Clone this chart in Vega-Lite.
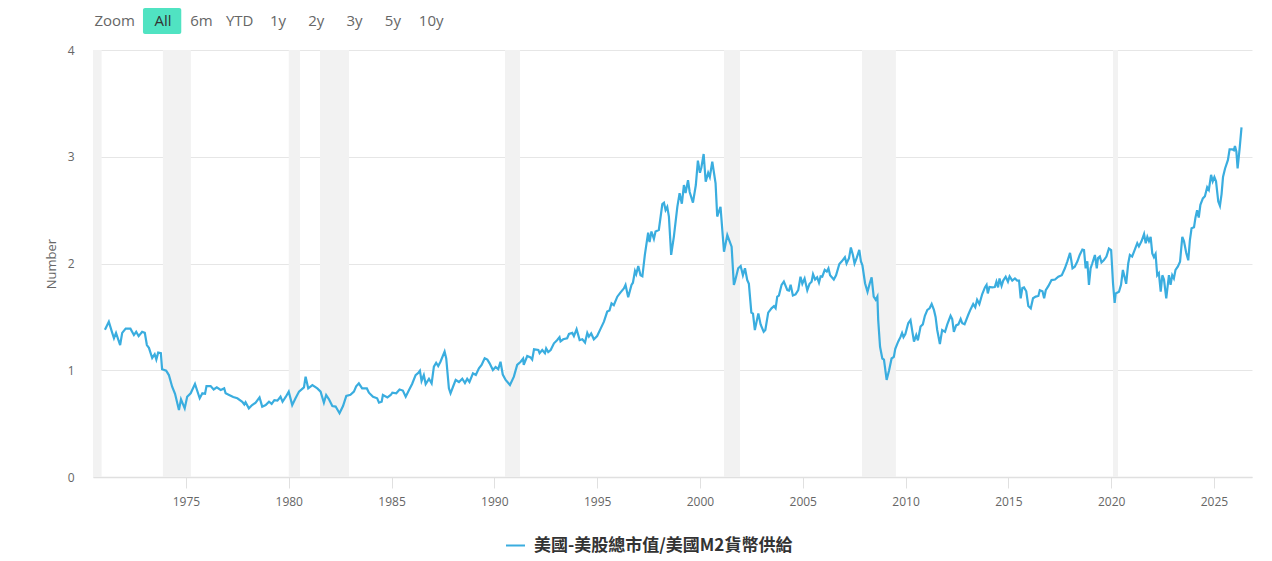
{
  "$schema": "https://vega.github.io/schema/vega-lite/v6.json",
  "background": "white",
  "padding": {"left": 45, "top": 8, "right": 19, "bottom": 5},
  "bounds": "flush",
  "spacing": 16,
  "config": {
    "view": {"stroke": null},
    "font": "Open Sans",
    "axis": {"labelFont": "Open Sans", "labelColor": "#666666", "labelFontSize": 12, "titleFont": "Open Sans"},
    "legend": {"layout": {"bottom": {"anchor": "middle"}}}
  },
  "datasets": {
    "buttons": [
      {"b": "Zoom"}, {"b": "All"}, {"b": "6m"}, {"b": "YTD"}, {"b": "1y"},
      {"b": "2y"}, {"b": "3y"}, {"b": "5y"}, {"b": "10y"}
    ],
    "recessions": [
      {"start": 1969.9, "end": 1970.9},
      {"start": 1973.88, "end": 1975.24},
      {"start": 1980.0, "end": 1980.55},
      {"start": 1981.52, "end": 1982.93},
      {"start": 1990.52, "end": 1991.25},
      {"start": 2001.17, "end": 2001.95},
      {"start": 2007.88, "end": 2009.53},
      {"start": 2020.09, "end": 2020.33}
    ],
    "ratio": [
      {"year": 1971.06, "v": 1.38}, {"year": 1971.25, "v": 1.455}, {"year": 1971.4, "v": 1.36}, {"year": 1971.5, "v": 1.3},
      {"year": 1971.6, "v": 1.35}, {"year": 1971.8, "v": 1.236}, {"year": 1971.9, "v": 1.35}, {"year": 1972.07, "v": 1.39},
      {"year": 1972.3, "v": 1.39}, {"year": 1972.47, "v": 1.33}, {"year": 1972.58, "v": 1.36}, {"year": 1972.7, "v": 1.32},
      {"year": 1972.87, "v": 1.36}, {"year": 1973.0, "v": 1.35}, {"year": 1973.1, "v": 1.236}, {"year": 1973.2, "v": 1.21},
      {"year": 1973.36, "v": 1.115}, {"year": 1973.48, "v": 1.15}, {"year": 1973.56, "v": 1.1}, {"year": 1973.65, "v": 1.165},
      {"year": 1973.78, "v": 1.16}, {"year": 1973.84, "v": 1.01}, {"year": 1974.04, "v": 0.996}, {"year": 1974.17, "v": 0.955},
      {"year": 1974.33, "v": 0.846}, {"year": 1974.47, "v": 0.78}, {"year": 1974.66, "v": 0.628}, {"year": 1974.76, "v": 0.728},
      {"year": 1974.94, "v": 0.643}, {"year": 1975.06, "v": 0.752}, {"year": 1975.23, "v": 0.784}, {"year": 1975.44, "v": 0.871},
      {"year": 1975.67, "v": 0.737}, {"year": 1975.8, "v": 0.784}, {"year": 1975.93, "v": 0.78}, {"year": 1976.0, "v": 0.852},
      {"year": 1976.2, "v": 0.852}, {"year": 1976.35, "v": 0.82}, {"year": 1976.5, "v": 0.84}, {"year": 1976.69, "v": 0.815},
      {"year": 1976.86, "v": 0.83}, {"year": 1976.93, "v": 0.784}, {"year": 1977.1, "v": 0.768}, {"year": 1977.3, "v": 0.75},
      {"year": 1977.5, "v": 0.737}, {"year": 1977.74, "v": 0.705}, {"year": 1977.84, "v": 0.68}, {"year": 1977.9, "v": 0.7},
      {"year": 1978.06, "v": 0.643}, {"year": 1978.22, "v": 0.674}, {"year": 1978.39, "v": 0.696}, {"year": 1978.58, "v": 0.746},
      {"year": 1978.71, "v": 0.659}, {"year": 1978.88, "v": 0.674}, {"year": 1979.04, "v": 0.705}, {"year": 1979.17, "v": 0.685},
      {"year": 1979.3, "v": 0.72}, {"year": 1979.45, "v": 0.715}, {"year": 1979.6, "v": 0.752}, {"year": 1979.7, "v": 0.705},
      {"year": 1979.86, "v": 0.752}, {"year": 1980.0, "v": 0.8}, {"year": 1980.17, "v": 0.674}, {"year": 1980.33, "v": 0.737},
      {"year": 1980.5, "v": 0.8}, {"year": 1980.74, "v": 0.84}, {"year": 1980.82, "v": 0.94}, {"year": 1980.95, "v": 0.83},
      {"year": 1981.15, "v": 0.86}, {"year": 1981.39, "v": 0.83}, {"year": 1981.55, "v": 0.8}, {"year": 1981.71, "v": 0.696},
      {"year": 1981.82, "v": 0.768}, {"year": 1981.95, "v": 0.73}, {"year": 1982.12, "v": 0.665}, {"year": 1982.28, "v": 0.66},
      {"year": 1982.47, "v": 0.597}, {"year": 1982.64, "v": 0.665}, {"year": 1982.8, "v": 0.759}, {"year": 1983.0, "v": 0.77},
      {"year": 1983.17, "v": 0.8}, {"year": 1983.28, "v": 0.85}, {"year": 1983.41, "v": 0.877}, {"year": 1983.57, "v": 0.83},
      {"year": 1983.8, "v": 0.83}, {"year": 1983.9, "v": 0.79}, {"year": 1984.1, "v": 0.752}, {"year": 1984.3, "v": 0.737},
      {"year": 1984.39, "v": 0.696}, {"year": 1984.52, "v": 0.705}, {"year": 1984.58, "v": 0.768}, {"year": 1984.8, "v": 0.746},
      {"year": 1984.96, "v": 0.768}, {"year": 1985.04, "v": 0.79}, {"year": 1985.23, "v": 0.784}, {"year": 1985.39, "v": 0.82},
      {"year": 1985.55, "v": 0.81}, {"year": 1985.69, "v": 0.752}, {"year": 1985.85, "v": 0.815}, {"year": 1986.0, "v": 0.871},
      {"year": 1986.17, "v": 0.955}, {"year": 1986.3, "v": 0.975}, {"year": 1986.38, "v": 0.996}, {"year": 1986.46, "v": 0.9},
      {"year": 1986.57, "v": 0.955}, {"year": 1986.66, "v": 0.871}, {"year": 1986.82, "v": 0.92}, {"year": 1986.95, "v": 0.877},
      {"year": 1987.06, "v": 1.033}, {"year": 1987.17, "v": 1.07}, {"year": 1987.27, "v": 1.04}, {"year": 1987.38, "v": 1.08},
      {"year": 1987.58, "v": 1.174}, {"year": 1987.66, "v": 1.11}, {"year": 1987.79, "v": 0.83}, {"year": 1987.87, "v": 0.784},
      {"year": 1988.0, "v": 0.85}, {"year": 1988.12, "v": 0.909}, {"year": 1988.28, "v": 0.89}, {"year": 1988.44, "v": 0.92},
      {"year": 1988.57, "v": 0.88}, {"year": 1988.68, "v": 0.92}, {"year": 1988.79, "v": 0.89}, {"year": 1988.96, "v": 0.971},
      {"year": 1989.1, "v": 0.955}, {"year": 1989.25, "v": 1.018}, {"year": 1989.38, "v": 1.05}, {"year": 1989.53, "v": 1.112},
      {"year": 1989.66, "v": 1.1}, {"year": 1989.77, "v": 1.065}, {"year": 1989.93, "v": 1.002}, {"year": 1990.06, "v": 1.03},
      {"year": 1990.19, "v": 1.01}, {"year": 1990.3, "v": 1.08}, {"year": 1990.41, "v": 0.96}, {"year": 1990.55, "v": 0.909},
      {"year": 1990.76, "v": 0.862}, {"year": 1990.95, "v": 0.94}, {"year": 1991.11, "v": 1.05}, {"year": 1991.28, "v": 1.08},
      {"year": 1991.4, "v": 1.11}, {"year": 1991.43, "v": 1.05}, {"year": 1991.6, "v": 1.133}, {"year": 1991.76, "v": 1.12},
      {"year": 1991.84, "v": 1.1}, {"year": 1991.93, "v": 1.196}, {"year": 1992.14, "v": 1.19}, {"year": 1992.2, "v": 1.16},
      {"year": 1992.33, "v": 1.19}, {"year": 1992.46, "v": 1.16}, {"year": 1992.52, "v": 1.205}, {"year": 1992.62, "v": 1.17},
      {"year": 1992.74, "v": 1.19}, {"year": 1992.9, "v": 1.252}, {"year": 1993.06, "v": 1.283}, {"year": 1993.17, "v": 1.31},
      {"year": 1993.22, "v": 1.27}, {"year": 1993.35, "v": 1.29}, {"year": 1993.54, "v": 1.3}, {"year": 1993.63, "v": 1.34},
      {"year": 1993.79, "v": 1.35}, {"year": 1993.87, "v": 1.32}, {"year": 1994.0, "v": 1.384}, {"year": 1994.15, "v": 1.283},
      {"year": 1994.28, "v": 1.29}, {"year": 1994.41, "v": 1.26}, {"year": 1994.52, "v": 1.35}, {"year": 1994.6, "v": 1.315},
      {"year": 1994.71, "v": 1.345}, {"year": 1994.84, "v": 1.29}, {"year": 1995.0, "v": 1.32}, {"year": 1995.17, "v": 1.39},
      {"year": 1995.33, "v": 1.455}, {"year": 1995.49, "v": 1.549}, {"year": 1995.6, "v": 1.56}, {"year": 1995.7, "v": 1.627},
      {"year": 1995.81, "v": 1.61}, {"year": 1995.98, "v": 1.689}, {"year": 1996.14, "v": 1.73}, {"year": 1996.3, "v": 1.767},
      {"year": 1996.38, "v": 1.8}, {"year": 1996.51, "v": 1.683}, {"year": 1996.67, "v": 1.8}, {"year": 1996.74, "v": 1.82},
      {"year": 1996.84, "v": 1.93}, {"year": 1996.9, "v": 1.9}, {"year": 1997.0, "v": 1.976}, {"year": 1997.11, "v": 1.89},
      {"year": 1997.2, "v": 1.88}, {"year": 1997.32, "v": 2.08}, {"year": 1997.48, "v": 2.289}, {"year": 1997.55, "v": 2.2},
      {"year": 1997.64, "v": 2.3}, {"year": 1997.76, "v": 2.23}, {"year": 1997.84, "v": 2.3}, {"year": 1998.0, "v": 2.314},
      {"year": 1998.17, "v": 2.557}, {"year": 1998.25, "v": 2.57}, {"year": 1998.33, "v": 2.5}, {"year": 1998.41, "v": 2.53},
      {"year": 1998.49, "v": 2.44}, {"year": 1998.6, "v": 2.08}, {"year": 1998.73, "v": 2.25}, {"year": 1998.9, "v": 2.53},
      {"year": 1999.01, "v": 2.658}, {"year": 1999.12, "v": 2.56}, {"year": 1999.22, "v": 2.735}, {"year": 1999.3, "v": 2.66},
      {"year": 1999.42, "v": 2.78}, {"year": 1999.5, "v": 2.67}, {"year": 1999.66, "v": 2.57}, {"year": 1999.8, "v": 2.735},
      {"year": 1999.9, "v": 2.963}, {"year": 2000.0, "v": 2.85}, {"year": 2000.07, "v": 2.9}, {"year": 2000.18, "v": 3.026},
      {"year": 2000.28, "v": 2.766}, {"year": 2000.4, "v": 2.85}, {"year": 2000.48, "v": 2.81}, {"year": 2000.6, "v": 2.954},
      {"year": 2000.76, "v": 2.75}, {"year": 2000.84, "v": 2.44}, {"year": 2000.92, "v": 2.485}, {"year": 2001.0, "v": 2.53},
      {"year": 2001.17, "v": 2.11}, {"year": 2001.33, "v": 2.267}, {"year": 2001.54, "v": 2.157}, {"year": 2001.65, "v": 1.8},
      {"year": 2001.7, "v": 1.83}, {"year": 2001.86, "v": 1.955}, {"year": 2001.98, "v": 1.976}, {"year": 2002.09, "v": 1.89},
      {"year": 2002.19, "v": 1.955}, {"year": 2002.3, "v": 1.845}, {"year": 2002.38, "v": 1.81}, {"year": 2002.5, "v": 1.54},
      {"year": 2002.58, "v": 1.53}, {"year": 2002.67, "v": 1.377}, {"year": 2002.84, "v": 1.533}, {"year": 2002.95, "v": 1.43},
      {"year": 2003.1, "v": 1.36}, {"year": 2003.18, "v": 1.377}, {"year": 2003.32, "v": 1.54}, {"year": 2003.48, "v": 1.58},
      {"year": 2003.6, "v": 1.6}, {"year": 2003.68, "v": 1.58}, {"year": 2003.76, "v": 1.689}, {"year": 2003.84, "v": 1.7},
      {"year": 2003.97, "v": 1.8}, {"year": 2004.08, "v": 1.83}, {"year": 2004.25, "v": 1.75}, {"year": 2004.33, "v": 1.745},
      {"year": 2004.41, "v": 1.8}, {"year": 2004.52, "v": 1.7}, {"year": 2004.65, "v": 1.71}, {"year": 2004.78, "v": 1.75},
      {"year": 2004.89, "v": 1.876}, {"year": 2004.98, "v": 1.81}, {"year": 2005.09, "v": 1.86}, {"year": 2005.22, "v": 1.75},
      {"year": 2005.33, "v": 1.81}, {"year": 2005.43, "v": 1.83}, {"year": 2005.5, "v": 1.9}, {"year": 2005.6, "v": 1.85},
      {"year": 2005.7, "v": 1.87}, {"year": 2005.79, "v": 1.82}, {"year": 2005.87, "v": 1.88}, {"year": 2005.95, "v": 1.876},
      {"year": 2006.07, "v": 1.94}, {"year": 2006.17, "v": 1.925}, {"year": 2006.25, "v": 1.955}, {"year": 2006.33, "v": 1.89},
      {"year": 2006.51, "v": 1.85}, {"year": 2006.62, "v": 1.89}, {"year": 2006.78, "v": 1.995}, {"year": 2006.9, "v": 2.02},
      {"year": 2007.05, "v": 2.058}, {"year": 2007.13, "v": 2.0}, {"year": 2007.25, "v": 2.05}, {"year": 2007.34, "v": 2.15},
      {"year": 2007.44, "v": 2.08}, {"year": 2007.52, "v": 2.0}, {"year": 2007.62, "v": 2.05}, {"year": 2007.75, "v": 2.127},
      {"year": 2007.83, "v": 2.02}, {"year": 2007.9, "v": 1.986}, {"year": 2008.03, "v": 1.815}, {"year": 2008.15, "v": 1.735},
      {"year": 2008.26, "v": 1.815}, {"year": 2008.35, "v": 1.87}, {"year": 2008.45, "v": 1.689}, {"year": 2008.55, "v": 1.66},
      {"year": 2008.63, "v": 1.69}, {"year": 2008.67, "v": 1.47}, {"year": 2008.76, "v": 1.22}, {"year": 2008.87, "v": 1.11},
      {"year": 2008.95, "v": 1.1}, {"year": 2009.08, "v": 0.909}, {"year": 2009.2, "v": 1.0}, {"year": 2009.32, "v": 1.11},
      {"year": 2009.43, "v": 1.125}, {"year": 2009.5, "v": 1.2}, {"year": 2009.64, "v": 1.268}, {"year": 2009.75, "v": 1.31},
      {"year": 2009.83, "v": 1.35}, {"year": 2009.9, "v": 1.31}, {"year": 2009.99, "v": 1.34}, {"year": 2010.13, "v": 1.44},
      {"year": 2010.24, "v": 1.47}, {"year": 2010.41, "v": 1.268}, {"year": 2010.52, "v": 1.33}, {"year": 2010.6, "v": 1.28},
      {"year": 2010.73, "v": 1.41}, {"year": 2010.84, "v": 1.43}, {"year": 2010.94, "v": 1.51}, {"year": 2011.06, "v": 1.565},
      {"year": 2011.17, "v": 1.58}, {"year": 2011.27, "v": 1.62}, {"year": 2011.38, "v": 1.565}, {"year": 2011.46, "v": 1.5},
      {"year": 2011.54, "v": 1.377}, {"year": 2011.67, "v": 1.246}, {"year": 2011.78, "v": 1.377}, {"year": 2011.92, "v": 1.36},
      {"year": 2012.03, "v": 1.43}, {"year": 2012.19, "v": 1.51}, {"year": 2012.27, "v": 1.48}, {"year": 2012.35, "v": 1.36},
      {"year": 2012.46, "v": 1.42}, {"year": 2012.57, "v": 1.43}, {"year": 2012.68, "v": 1.48}, {"year": 2012.76, "v": 1.44},
      {"year": 2012.87, "v": 1.43}, {"year": 2013.05, "v": 1.52}, {"year": 2013.16, "v": 1.57}, {"year": 2013.29, "v": 1.62},
      {"year": 2013.39, "v": 1.59}, {"year": 2013.48, "v": 1.66}, {"year": 2013.59, "v": 1.62}, {"year": 2013.73, "v": 1.714},
      {"year": 2013.86, "v": 1.776}, {"year": 2013.94, "v": 1.8}, {"year": 2014.0, "v": 1.72}, {"year": 2014.08, "v": 1.78},
      {"year": 2014.21, "v": 1.776}, {"year": 2014.34, "v": 1.78}, {"year": 2014.42, "v": 1.83}, {"year": 2014.5, "v": 1.776},
      {"year": 2014.57, "v": 1.86}, {"year": 2014.67, "v": 1.79}, {"year": 2014.75, "v": 1.84}, {"year": 2014.87, "v": 1.876},
      {"year": 2014.98, "v": 1.83}, {"year": 2015.06, "v": 1.88}, {"year": 2015.19, "v": 1.84}, {"year": 2015.32, "v": 1.86},
      {"year": 2015.43, "v": 1.84}, {"year": 2015.52, "v": 1.84}, {"year": 2015.6, "v": 1.674}, {"year": 2015.68, "v": 1.77},
      {"year": 2015.76, "v": 1.776}, {"year": 2015.87, "v": 1.74}, {"year": 2015.97, "v": 1.602}, {"year": 2016.09, "v": 1.58},
      {"year": 2016.2, "v": 1.674}, {"year": 2016.33, "v": 1.69}, {"year": 2016.46, "v": 1.696}, {"year": 2016.53, "v": 1.75},
      {"year": 2016.66, "v": 1.74}, {"year": 2016.74, "v": 1.674}, {"year": 2016.82, "v": 1.75}, {"year": 2016.95, "v": 1.79},
      {"year": 2017.1, "v": 1.845}, {"year": 2017.27, "v": 1.85}, {"year": 2017.43, "v": 1.876}, {"year": 2017.6, "v": 1.89},
      {"year": 2017.75, "v": 1.955}, {"year": 2017.87, "v": 2.02}, {"year": 2018.0, "v": 2.1}, {"year": 2018.06, "v": 2.03},
      {"year": 2018.12, "v": 1.955}, {"year": 2018.23, "v": 1.97}, {"year": 2018.36, "v": 2.02}, {"year": 2018.47, "v": 2.08},
      {"year": 2018.6, "v": 2.13}, {"year": 2018.68, "v": 2.125}, {"year": 2018.76, "v": 1.955}, {"year": 2018.84, "v": 2.02},
      {"year": 2018.92, "v": 1.8}, {"year": 2019.0, "v": 1.955}, {"year": 2019.08, "v": 2.0}, {"year": 2019.21, "v": 2.08},
      {"year": 2019.3, "v": 1.955}, {"year": 2019.36, "v": 2.05}, {"year": 2019.45, "v": 2.065}, {"year": 2019.53, "v": 2.01},
      {"year": 2019.64, "v": 2.03}, {"year": 2019.77, "v": 2.065}, {"year": 2019.89, "v": 2.14}, {"year": 2020.0, "v": 2.125},
      {"year": 2020.09, "v": 1.815}, {"year": 2020.17, "v": 1.63}, {"year": 2020.22, "v": 1.72}, {"year": 2020.38, "v": 1.735},
      {"year": 2020.48, "v": 1.8}, {"year": 2020.57, "v": 1.94}, {"year": 2020.65, "v": 1.875}, {"year": 2020.73, "v": 1.81},
      {"year": 2020.83, "v": 2.0}, {"year": 2020.91, "v": 2.08}, {"year": 2021.02, "v": 2.065}, {"year": 2021.15, "v": 2.13},
      {"year": 2021.27, "v": 2.19}, {"year": 2021.35, "v": 2.16}, {"year": 2021.48, "v": 2.21}, {"year": 2021.6, "v": 2.276},
      {"year": 2021.68, "v": 2.19}, {"year": 2021.76, "v": 2.25}, {"year": 2021.84, "v": 2.21}, {"year": 2021.92, "v": 2.25},
      {"year": 2022.0, "v": 2.095}, {"year": 2022.08, "v": 2.06}, {"year": 2022.16, "v": 2.09}, {"year": 2022.24, "v": 1.89},
      {"year": 2022.32, "v": 1.91}, {"year": 2022.41, "v": 1.736}, {"year": 2022.49, "v": 1.89}, {"year": 2022.57, "v": 1.85},
      {"year": 2022.68, "v": 1.674}, {"year": 2022.81, "v": 1.89}, {"year": 2022.89, "v": 1.8}, {"year": 2022.97, "v": 1.89},
      {"year": 2023.05, "v": 1.86}, {"year": 2023.13, "v": 1.94}, {"year": 2023.24, "v": 1.97}, {"year": 2023.35, "v": 2.017},
      {"year": 2023.46, "v": 2.25}, {"year": 2023.54, "v": 2.21}, {"year": 2023.65, "v": 2.1}, {"year": 2023.75, "v": 2.03},
      {"year": 2023.83, "v": 2.22}, {"year": 2023.91, "v": 2.33}, {"year": 2024.03, "v": 2.34}, {"year": 2024.1, "v": 2.43},
      {"year": 2024.18, "v": 2.5}, {"year": 2024.26, "v": 2.43}, {"year": 2024.34, "v": 2.55}, {"year": 2024.46, "v": 2.61},
      {"year": 2024.56, "v": 2.63}, {"year": 2024.67, "v": 2.714}, {"year": 2024.75, "v": 2.69}, {"year": 2024.86, "v": 2.83},
      {"year": 2024.94, "v": 2.77}, {"year": 2025.02, "v": 2.81}, {"year": 2025.1, "v": 2.77}, {"year": 2025.21, "v": 2.58},
      {"year": 2025.29, "v": 2.54}, {"year": 2025.37, "v": 2.65}, {"year": 2025.44, "v": 2.81}, {"year": 2025.54, "v": 2.89},
      {"year": 2025.68, "v": 2.97}, {"year": 2025.76, "v": 3.07}, {"year": 2025.89, "v": 3.07}, {"year": 2025.97, "v": 3.06},
      {"year": 2026.02, "v": 3.1}, {"year": 2026.09, "v": 3.05}, {"year": 2026.15, "v": 2.89}, {"year": 2026.25, "v": 3.08},
      {"year": 2026.34, "v": 3.276}
    ]
  },
  "vconcat": [
    {
      "width": 368,
      "height": 26,
      "data": {"name": "buttons"},
      "encoding": {
        "x": {
          "field": "b",
          "type": "nominal",
          "axis": null,
          "scale": {
            "domain": ["Zoom", "All", "6m", "YTD", "1y", "2y", "3y", "5y", "10y"],
            "paddingInner": 0,
            "paddingOuter": 0.305
          }
        }
      },
      "layer": [
        {
          "transform": [{"filter": "datum.b === 'All'"}],
          "mark": {"type": "rect", "color": "#50e3c2", "cornerRadius": 2}
        },
        {
          "transform": [{"filter": "datum.b !== 'Zoom'"}],
          "mark": {"type": "text", "font": "Open Sans", "fontSize": 15, "dx": 1},
          "encoding": {
            "text": {"field": "b"},
            "color": {"condition": {"test": "datum.b === 'All'", "value": "#333333"}, "value": "#666666"}
          }
        },
        {
          "transform": [{"filter": "datum.b === 'Zoom'"}],
          "mark": {"type": "text", "font": "Open Sans", "fontSize": 15, "align": "right", "dx": -8, "color": "#666666"},
          "encoding": {
            "x": {"field": "b", "type": "nominal", "bandPosition": 1},
            "text": {"field": "b"}
          }
        }
      ]
    },
    {
      "width": 1159,
      "height": 427,
      "layer": [
        {
          "data": {"name": "recessions"},
          "mark": {"type": "rect", "color": "#f2f2f2", "clip": true},
          "encoding": {
            "x": {
              "field": "start",
              "type": "quantitative",
              "title": null,
              "scale": {"domain": [1970.48, 2026.85], "nice": false, "zero": false},
              "axis": {
                "values": [1975, 1980, 1985, 1990, 1995, 2000, 2005, 2010, 2015, 2020, 2025],
                "format": "d",
                "grid": false,
                "domainColor": "#e0e0e0",
                "domainWidth": 1.5,
                "tickColor": "#e0e0e0",
                "tickSize": 11,
                "labelPadding": 8
              }
            },
            "x2": {"field": "end"}
          }
        },
        {
          "data": {"name": "ratio"},
          "mark": {"type": "line", "color": "#3aaddf", "strokeWidth": 2.2},
          "encoding": {
            "x": {"field": "year", "type": "quantitative", "title": null},
            "y": {
              "field": "v",
              "type": "quantitative",
              "title": "Number",
              "scale": {"domain": [0, 4], "nice": false},
              "axis": {
                "values": [0, 1, 2, 3, 4],
                "domain": false,
                "ticks": false,
                "gridColor": "#e6e6e6",
                "labelPadding": 19,
                "titleColor": "#666666",
                "titleFontSize": 13,
                "titleFontWeight": "normal",
                "titlePadding": 9
              }
            },
            "color": {
              "datum": "美國-美股總市值/美國M2貨幣供給",
              "scale": {"range": ["#3aaddf"]},
              "legend": {
                "title": null,
                "orient": "bottom",
                "offset": 28,
                "symbolType": "stroke",
                "symbolStrokeWidth": 2,
                "symbolSize": 361,
                "labelFont": "Noto Sans CJK TC",
                "labelFontSize": 17,
                "labelFontWeight": "bold",
                "labelColor": "#333333",
                "labelOffset": 8,
                "labelLimit": 0
              }
            }
          }
        }
      ]
    }
  ]
}
